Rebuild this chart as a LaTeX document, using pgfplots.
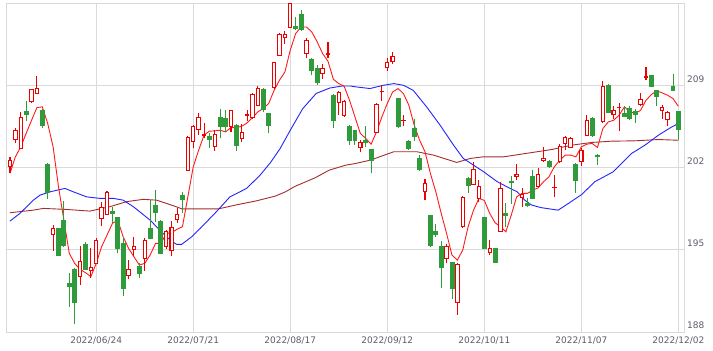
\documentclass[border=0pt]{standalone}
\usepackage{pgfplots}
\pgfplotsset{compat=1.18}
\usepackage{pgfplotstable}
\usepackage{fontspec}
\setmainfont{DejaVu Sans}
\definecolor{upc}{RGB}{238,0,0}
\definecolor{dnc}{RGB}{48,155,58}
\definecolor{ma5}{RGB}{255,25,25}
\definecolor{ma25}{RGB}{35,35,255}
\definecolor{ma75}{RGB}{165,45,45}
\definecolor{gridc}{RGB}{218,218,218}
\definecolor{labc}{RGB}{90,94,105}
\pgfdeclareplotmark{nothing}{}

\pgfplotstableread{
i o h l c
0 202.11 202.88 201.52 202.56
1 204.38 205.32 204.05 205.17
2 203.62 206.74 203.54 206.25
4 207.58 208.70 207.50 208.63
5 208.29 209.77 208.25 208.72
8 196.31 197.07 194.91 196.82
13 192.76 195.31 191.99 193.98
15 193.22 195.12 192.57 193.47
16 193.84 195.97 193.76 195.82
17 197.67 199.08 197.04 198.61
18 198.03 200.02 197.95 199.84
22 192.79 194.12 192.48 193.33
23 195.03 196.10 194.46 195.26
25 194.27 195.97 193.22 195.82
29 195.26 196.67 195.03 196.53
30 194.92 197.47 194.49 196.88
31 197.59 198.52 197.30 198.01
33 201.77 204.67 201.72 204.55
34 204.24 205.58 203.62 205.46
35 205.23 206.60 204.75 206.25
36 204.72 205.80 204.47 204.78
38 203.76 205.23 203.42 204.82
41 205.51 206.90 205.03 206.87
43 204.47 205.68 204.19 204.98
44 206.43 206.93 205.97 206.47
45 206.25 208.30 206.17 208.22
46 207.30 208.91 207.21 208.72
49 208.80 210.99 208.72 210.90
50 211.55 213.48 211.49 213.31
51 213.06 213.62 212.49 213.31
52 213.90 215.95 213.83 215.95
55 211.70 212.98 211.28 212.83
58 210.00 210.84 209.57 210.42
59 211.62 212.69 211.36 211.66
61 207.50 208.52 206.45 208.35
62 206.40 207.72 206.31 207.59
65 203.71 204.38 203.34 204.10
68 204.98 207.50 204.90 207.36
69 208.45 209.00 207.67 208.49
70 210.51 211.36 210.22 210.90
71 210.99 211.81 210.84 211.47
73 205.99 206.51 205.51 206.02
77 199.99 200.98 199.22 200.64
81 194.27 195.48 193.84 195.26
83 190.52 193.84 189.45 193.76
84 196.96 199.56 196.82 199.45
86 200.58 202.49 200.50 201.84
87 199.37 200.92 199.09 200.36
89 194.75 195.82 194.55 195.12
91 196.59 200.79 196.53 200.22
94 201.21 202.28 200.92 201.43
95 199.46 200.22 198.66 199.71
98 200.41 202.00 200.36 201.43
99 202.57 203.76 202.49 202.77
101 200.28 201.35 199.46 200.31
102 202.49 203.98 202.35 203.81
103 204.05 204.66 203.47 204.55
104 203.71 204.61 203.62 204.47
106 202.49 203.62 202.15 203.47
107 204.75 206.51 204.66 206.02
110 205.89 209.34 205.75 208.91
112 206.51 207.21 206.17 206.87
113 207.08 207.45 205.12 207.11
117 207.38 208.35 207.21 207.79
118 209.63 210.56 209.43 209.71
121 206.87 207.30 206.17 207.10
122 206.08 206.82 205.51 206.65
}\upT

\pgfplotstableread{
i o h l c
3 206.79 207.64 205.97 206.48
6 206.87 207.02 205.38 205.60
7 202.26 202.40 199.28 199.84
9 196.82 196.87 194.49 194.55
10 197.52 199.17 195.26 195.34
11 192.14 193.00 190.16 191.91
12 193.34 193.42 188.66 190.50
14 195.46 195.63 193.27 193.33
19 198.24 198.61 197.30 198.10
20 197.76 197.81 194.69 195.12
21 195.54 196.10 191.06 191.72
24 193.61 193.90 192.57 192.99
26 196.82 199.22 195.89 195.97
27 198.78 200.07 197.39 198.15
28 197.39 197.52 194.63 194.69
32 199.65 199.88 198.10 199.29
37 204.61 204.90 203.62 204.39
39 206.25 207.02 204.47 205.51
40 206.20 206.87 205.03 205.50
42 205.60 205.68 203.42 203.90
47 208.63 208.80 206.74 206.93
48 206.59 206.65 204.90 205.54
53 214.02 214.82 213.68 213.83
54 215.04 215.38 213.62 213.74
56 211.19 211.28 209.85 210.22
57 210.42 210.70 209.00 209.20
60 208.15 208.23 205.32 205.97
63 205.46 205.60 203.90 204.32
64 205.17 205.23 203.90 204.32
66 204.32 205.51 203.76 204.10
67 203.56 203.60 201.50 202.62
72 207.87 207.93 205.40 205.51
74 204.24 204.38 203.47 203.62
75 205.32 206.17 204.27 204.61
76 202.77 203.05 201.72 201.84
78 197.95 197.98 195.26 195.34
79 196.53 197.18 196.06 196.33
80 195.31 195.77 191.72 193.47
82 193.93 193.98 190.81 191.72
85 201.07 201.16 199.80 200.45
88 197.76 197.81 195.03 195.12
90 195.12 195.18 193.84 193.93
92 198.10 198.94 196.96 197.95
93 200.84 201.26 198.88 200.70
96 198.94 199.37 198.66 198.80
97 201.26 201.77 199.29 199.37
100 202.54 202.62 202.00 202.06
105 202.28 202.40 199.80 200.92
108 206.17 206.31 204.61 204.75
109 203.00 203.11 202.20 202.91
111 209.00 209.14 206.60 206.65
114 206.59 207.21 206.31 206.36
115 207.02 207.21 206.02 206.17
116 206.74 207.02 205.80 206.53
119 209.85 209.88 208.86 208.94
120 208.57 208.63 207.21 208.01
123 208.91 209.99 208.52 208.52
124 206.74 206.79 204.38 205.23
}\dnT

\pgfplotsset{
  candle/.style n args={4}{%
    scatter, only marks, mark=nothing,
    visualization depends on={\thisrow{h}-\thisrow{l} \as \hh},
    visualization depends on={\thisrow{o}-\thisrow{l} \as \oo},
    visualization depends on={\thisrow{c}-\thisrow{l} \as \cc},
    scatter/@pre marker code/.code={%
      \draw[#1, line width=#4] (axis direction cs:0,0) -- (axis direction cs:0,\hh);
      \draw[#1, fill=#2, line width=#4] (axis direction cs:-#3,\oo) rectangle (axis direction cs:#3,\cc);
    },
    scatter/@post marker code/.code={},
  },
}

\begin{document}
\begin{tikzpicture}
\begin{axis}[
  scale only axis, width=678pt, height=329pt,
  xmin=-0.74, xmax=125.05, ymin=188, ymax=216,
  axis line style={draw=gridc, line width=0.8pt},
  major tick length=0pt,
  xtick={16,34,52,70,88,106,124},
  xticklabels={2022/06/24,2022/07/21,2022/08/17,2022/09/12,2022/10/11,2022/11/07,2022/12/02},
  ytick={188,195,202,209},
  yticklabel pos=right,
  grid=major,
  major grid style={draw=gridc, line width=0.8pt},
  /pgf/number format/assume math mode=true,
  tick label style={font=\fontsize{9}{10}\selectfont, text=labc},
  xticklabel style={anchor=north, inner sep=0pt, yshift=-4.5pt},
  yticklabel style={anchor=base west, inner sep=0pt, xshift=3pt, yshift=3pt},
  clip=false,
]
\addplot[candle={dnc}{dnc}{0.37}{0.9pt}] table[x=i, y=l] {\dnT};
\addplot[candle={upc}{white}{0.31}{1.05pt}] table[x=i, y=l] {\upT};

\addplot[ma75, line width=0.9pt, mark=none] coordinates {
(0,198.15) (4.33,198.37) (6.2,198.52) (10.5,198.43) (14.8,198.29) (18.5,198.66) (21.6,199.09) (24.7,199.29) (27.2,199.22) (30.6,198.7) (31.9,198.48) (38.7,198.48) (41.8,198.8) (45.5,199.14) (49.2,199.56) (51.1,199.93) (52.9,200.4) (56.6,201.12) (59.2,201.77) (62.3,202.2) (64.1,202.34) (66.8,202.62) (71.2,203.34) (75.5,203.34) (78.6,203.05) (82.9,202.43) (85.4,202.77) (87.8,202.91) (91.6,202.91) (96.5,203.25) (100.5,203.53) (104.2,203.9) (107.9,204.13) (111.6,204.24) (115.9,204.27) (120.3,204.38) (124,204.32)
};
\addplot[ma25, line width=0.9pt, mark=none] coordinates {
(0,197.44) (1.86,198.1) (4.33,199.22) (5.57,199.65) (7.42,199.93) (10.2,200.22) (11.75,199.93) (14.22,199.5) (16.7,199.37) (19.2,199.37) (21.0,199.22) (22.9,198.66) (26.0,197.52) (27.8,196.67) (29.7,195.82) (30.9,195.46) (31.85,195.46) (33.7,196.1) (35.3,196.82) (37.1,197.67) (38.3,198.24) (40.8,199.5) (43.9,200.22) (46.4,201.35) (48.3,202.4) (50.1,203.6) (52.0,205.17) (54.3,207.0) (56.8,208.3) (59.3,208.76) (61.7,208.94) (63.1,208.94) (64.2,208.86) (66.8,208.72) (69.3,209.0) (71.2,209.14) (73.0,209.0) (74.8,208.57) (77.3,207.16) (79.8,205.6) (82.3,203.9) (84.1,202.77) (86.0,202.2) (87.9,201.63) (90.4,200.79) (92.2,200.36) (94.1,199.93) (95.5,199.22) (96.8,198.8) (98.6,198.58) (101.7,198.37) (103.6,198.94) (106.1,199.71) (108.5,200.79) (111.9,201.63) (115.3,203.19) (117.8,203.9) (120.3,204.75) (122.8,205.46) (124,205.74)
};
\addplot[ma5, line width=0.9pt, mark=none] coordinates {
(0,201.52) (1,202.9) (2,203.76) (3,204.9) (4,206.02) (5,207.1) (6,207.16) (7,205.74) (8,203.76) (9,200.36) (10,197.52) (11,194.69) (12,193.84) (13,193.33) (14,193.05) (15,192.71) (16,193.84) (17,195.26) (18,196.25) (19,197.24) (20,197.52) (21,196.1) (22,195.12) (23,194.4) (24,193.7) (25,193.84) (26,194.55) (27,195.54) (28,195.54) (29,196.39) (30,196.45) (31,196.75) (32,196.96) (33,199.5) (34,202.06) (35,203.47) (36,204.75) (37,205.09) (38,205.12) (39,205.17) (40,205.03) (41,205.4) (42,205.4) (43,205.51) (44,205.8) (45,206.25) (46,206.74) (47,207.02) (48,207.45) (49,208.57) (50,209.43) (51,210.13) (52,211.98) (53,213.4) (54,213.96) (55,213.96) (56,213.53) (57,212.69) (58,211.7) (59,211.04) (60,209.51) (61,209.14) (62,208.91) (63,207.72) (64,206.31) (65,204.9) (66,204.47) (67,203.98) (68,205.03) (69,206.31) (70,207.45) (71,208.43) (72,208.72) (73,208.29) (74,207.3) (75,205.6) (76,204.32) (77,203.34) (78,201.49) (79,199.94) (80,198.1) (81,196.39) (82,194.55) (83,194.12) (84,194.97) (85,196.96) (86,198.37) (87,199.37) (88,199.2) (89,198.1) (90,197.3) (91,196.96) (92,196.53) (93,197.95) (94,199.51) (95,199.8) (96,199.8) (97,200.07) (98,200.27) (99,200.79) (100,201.21) (101,202.06) (102,202.62) (103,203.05) (104,203.05) (105,202.91) (106,203.76) (107,203.98) (108,204.05) (109,203.71) (110,205.32) (111,205.88) (112,206.02) (113,206.45) (114,207.16) (115,206.74) (116,206.6) (117,206.87) (118,207.72) (119,208.21) (120,208.52) (121,208.35) (122,208.15) (123,207.87) (124,207.21)
};
\end{axis}
\path ([shift={(-6pt,-19pt)}]current axis.south west) rectangle ([shift={(29pt,3pt)}]current axis.north east);
\end{tikzpicture}
\end{document}
